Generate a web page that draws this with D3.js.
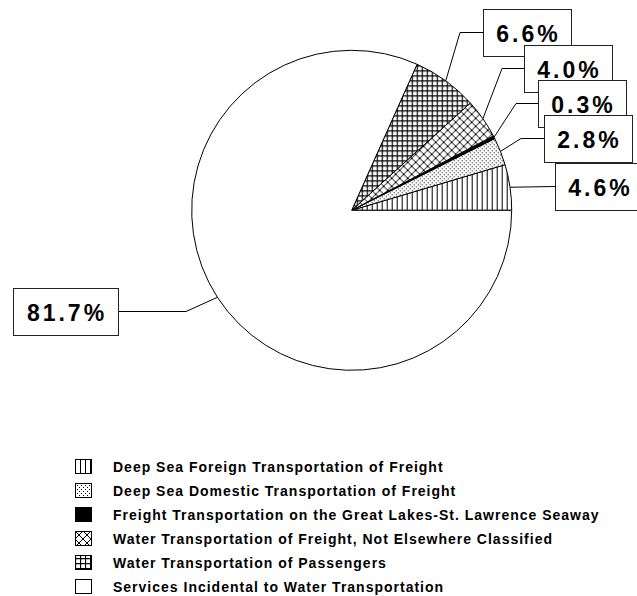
<!DOCTYPE html>
<html lang="en">
<head>
	<meta charset="UTF-8">
	<title>water transportation pie</title>
	<style>
		body { margin: 0; background: #fff; }
		text { font-family: "Liberation Sans", Arial, sans-serif; font-weight: bold; }
	</style>
</head>
<body>
	<svg id="chart" width="637" height="596"></svg>
</body>
<script src="https://cdn.jsdelivr.net/npm/d3@7"></script>
<script>
	// data
	const categories = [
		"Deep Sea Foreign Transportation of Freight",
		"Deep Sea Domestic Transportation of Freight",
		"Freight Transportation on the Great Lakes-St. Lawrence Seaway",
		"Water Transportation of Freight, Not Elsewhere Classified",
		"Water Transportation of Passengers",
		"Services Incidental to Water Transportation"
	];
	const shares = [4.6, 2.8, 0.3, 4.0, 6.6, 81.7];
	const shareLabels = ["4.6%", "2.8%", "0.3%", "4.0%", "6.6%", "81.7%"];
	const fills = ["url(#vlines)", "url(#dots)", "#000", "url(#diamonds)", "url(#grid)", "#fff"];

	// label boxes: x, y, w, h and elbow of the leader line
	const boxes = [
		{ x: 555, y: 163, w: 88, h: 47, elbow: null },
		{ x: 544, y: 115, w: 88, h: 47, elbow: [521, 138.5] },
		{ x: 538, y: 80, w: 88, h: 47, elbow: [516, 103.5] },
		{ x: 524, y: 45, w: 88, h: 47, elbow: [502, 68.5] },
		{ x: 483, y: 9, w: 88, h: 47, elbow: [460, 32.5] },
		{ x: 13, y: 288, w: 105, h: 47, elbow: [186, 311.5] }
	];

	let svg = d3.select("#chart");
	let cx = 351.7, cy = 210.3, r = 160;

	// hatch patterns
	let defs = svg.append("defs");
	let p = defs.append("pattern").attr("id", "vlines").attr("patternUnits", "userSpaceOnUse")
		.attr("width", 5).attr("height", 5);
	p.append("rect").attr("width", 5).attr("height", 5).attr("fill", "#fff");
	p.append("line").attr("x1", 0.5).attr("y1", 0).attr("x2", 0.5).attr("y2", 5).attr("stroke", "#000").attr("stroke-width", 1);

	p = defs.append("pattern").attr("id", "dots").attr("patternUnits", "userSpaceOnUse")
		.attr("width", 4).attr("height", 4);
	p.append("rect").attr("width", 4).attr("height", 4).attr("fill", "#fff");
	p.append("rect").attr("x", 0).attr("y", 0).attr("width", 1).attr("height", 1).attr("fill", "#000");
	p.append("rect").attr("x", 2).attr("y", 2).attr("width", 1).attr("height", 1).attr("fill", "#000");

	p = defs.append("pattern").attr("id", "diamonds").attr("patternUnits", "userSpaceOnUse")
		.attr("width", 8).attr("height", 8);
	p.append("rect").attr("width", 8).attr("height", 8).attr("fill", "#fff");
	p.append("path").attr("d", "M0,0L8,8M8,0L0,8").attr("stroke", "#000").attr("stroke-width", 1);

	p = defs.append("pattern").attr("id", "grid").attr("patternUnits", "userSpaceOnUse")
		.attr("width", 5).attr("height", 5);
	p.append("rect").attr("width", 5).attr("height", 5).attr("fill", "#fff");
	p.append("path").attr("d", "M0.5,0V5M0,0.5H5").attr("stroke", "#000").attr("stroke-width", 1.3);

	// pie, counter clockwise from 3 o'clock
	let pie = d3.pie().sort(null).value(d => d)
		.startAngle(Math.PI / 2).endAngle(Math.PI / 2 - 2 * Math.PI);
	let arcs = pie(shares);
	let arc = d3.arc().innerRadius(0).outerRadius(r);
	let rim = d3.arc().innerRadius(r).outerRadius(r);

	let pieG = svg.append("g").attr("transform", `translate(${cx},${cy})`);
	pieG.selectAll("path")
		.data(arcs)
		.enter()
		.append("path")
		.attr("d", arc)
		.attr("fill", (d, i) => fills[i])
		.attr("stroke", "#000")
		.attr("stroke-width", 1);

	// leader lines
	let lines = svg.append("g");
	arcs.forEach((d, i) => {
		let c = rim.centroid(d);
		let b = boxes[i];
		let pts = [[cx + c[0], cy + c[1]]];
		if (b.elbow) pts.push(b.elbow);
		let ey = b.y + b.h / 2;
		pts.push(i == 5 ? [b.x + b.w, ey] : [b.x, ey]);
		lines.append("path")
			.attr("d", d3.line()(pts))
			.attr("fill", "none")
			.attr("stroke", "#000")
			.attr("stroke-width", 1);
	});

	// label boxes, drawn so later ones sit on top
	let order = [5, 4, 3, 2, 1, 0];
	let lab = svg.append("g");
	order.forEach(i => {
		let b = boxes[i];
		lab.append("rect")
			.attr("x", b.x + 0.5).attr("y", b.y + 0.5)
			.attr("width", b.w).attr("height", b.h)
			.attr("fill", "#fff").attr("stroke", "#222").attr("stroke-width", 1);
		lab.append("text")
			.attr("x", b.x + b.w / 2 + 1.5)
			.attr("y", b.y + b.h / 2 + 9)
			.attr("text-anchor", "middle")
			.attr("font-size", 23)
			.attr("letter-spacing", 3)
			.text(shareLabels[i]);
	});

	// legend
	let legend = svg.append("g").attr("transform", "translate(75,467)");
	let rows = legend.selectAll("g")
		.data(categories)
		.enter()
		.append("g")
		.attr("transform", (d, i) => `translate(0,${i * 24})`);
	rows.append("rect")
		.attr("x", 0.5).attr("y", -7.5)
		.attr("width", 16).attr("height", 14)
		.attr("fill", (d, i) => fills[i])
		.attr("stroke", "#000");
	rows.append("text")
		.attr("x", 38)
		.attr("y", 5)
		.attr("font-size", 14)
		.attr("letter-spacing", 1)
		.text(d => d);
</script>
</html>
